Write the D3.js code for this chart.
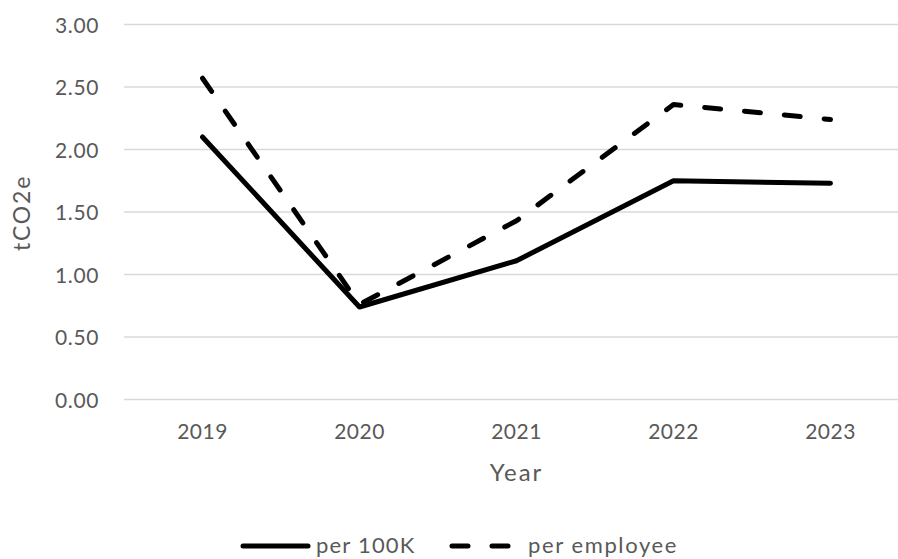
<!DOCTYPE html>
<html>
<head>
<meta charset="utf-8">
<script src="https://cdn.jsdelivr.net/npm/d3@7"></script>
<style>
  html, body { margin: 0; padding: 0; background: #fff; }
  svg text { font-family: Lato, "Open Sans", sans-serif; fill: #595959; }
</style>
</head>
<body>
<svg id="chart" width="898" height="559"></svg>
<script>
// Emission intensity by year
const years = ["2019", "2020", "2021", "2022", "2023"];
const per100K = [2.10, 0.74, 1.11, 1.75, 1.73];
const perEmployee = [2.57, 0.76, 1.43, 2.36, 2.24];
const yTicks = [0, 0.5, 1, 1.5, 2, 2.5, 3];
const seriesNames = ["per 100K", "per employee"];

const svg = d3.select("#chart");
const margin = { left: 124, right: -11, top: 24.5, bottom: 159.5 };
const W = 898, H = 559;

const x = d3.scaleBand()
  .domain(years)
  .range([margin.left, W - margin.right]);

const y = d3.scaleLinear()
  .domain([0, 3])
  .range([H - margin.bottom, margin.top]);

// horizontal gridlines
svg.append("g")
  .selectAll("line")
  .data(yTicks)
  .join("line")
  .attr("x1", margin.left)
  .attr("x2", W - margin.right)
  .attr("y1", d => y(d))
  .attr("y2", d => y(d))
  .attr("stroke", "#d9d9d9")
  .attr("stroke-width", 1.5);

// y tick labels
const yAxis = d3.axisLeft(y).tickValues(yTicks).tickFormat(d3.format(".2f")).tickSize(0).tickPadding(0);
const gy = svg.append("g").attr("transform", "translate(99,0)").call(yAxis);
gy.select(".domain").remove();
gy.selectAll("text").attr("font-size", 21).attr("dy", "0.36em")
  .attr("letter-spacing", 0.6).attr("fill", "#595959");

// x tick labels
const xAxis = d3.axisBottom(x).tickSize(0).tickPadding(0);
const gx = svg.append("g").attr("transform", "translate(0,424)").call(xAxis);
gx.select(".domain").remove();
gx.selectAll("text").attr("font-size", 21).attr("dy", "0.71em")
  .attr("letter-spacing", 0.5).attr("fill", "#595959");

// axis titles
svg.append("text")
  .attr("x", x("2021") + x.bandwidth() / 2)
  .attr("y", 481)
  .attr("text-anchor", "middle")
  .attr("font-size", 24)
  .attr("letter-spacing", 2)
  .text("Year");

svg.append("text")
  .attr("transform", "translate(30,213) rotate(-90)")
  .attr("text-anchor", "middle")
  .attr("font-size", 23)
  .attr("letter-spacing", 1.8)
  .text("tCO2e");

const cx = d => x(d) + x.bandwidth() / 2;
const line = d3.line().x((d, i) => cx(years[i])).y(d => y(d));

svg.append("path")
  .datum(per100K)
  .attr("d", line)
  .attr("fill", "none")
  .attr("stroke", "#000")
  .attr("stroke-width", 5)
  .attr("stroke-linecap", "round")
  .attr("stroke-linejoin", "round");

svg.append("path")
  .datum(perEmployee)
  .attr("d", line)
  .attr("fill", "none")
  .attr("stroke", "#000")
  .attr("stroke-width", 5)
  .attr("stroke-dasharray", "16 24")
  .attr("stroke-linecap", "round")
  .attr("stroke-linejoin", "round");

// legend
const legend = svg.append("g");
legend.append("line")
  .attr("x1", 243).attr("x2", 308).attr("y1", 546).attr("y2", 546)
  .attr("stroke", "#000").attr("stroke-width", 5).attr("stroke-linecap", "round");
legend.append("text")
  .attr("x", 316).attr("y", 553).attr("font-size", 22)
  .attr("letter-spacing", 1.2).text(seriesNames[0]);
legend.append("line")
  .attr("x1", 452).attr("x2", 512).attr("y1", 546).attr("y2", 546)
  .attr("stroke", "#000").attr("stroke-width", 5)
  .attr("stroke-dasharray", "16 24").attr("stroke-linecap", "round");
legend.append("text")
  .attr("x", 528).attr("y", 553).attr("font-size", 22)
  .attr("letter-spacing", 1.6).text(seriesNames[1]);
</script>
</body>
</html>
